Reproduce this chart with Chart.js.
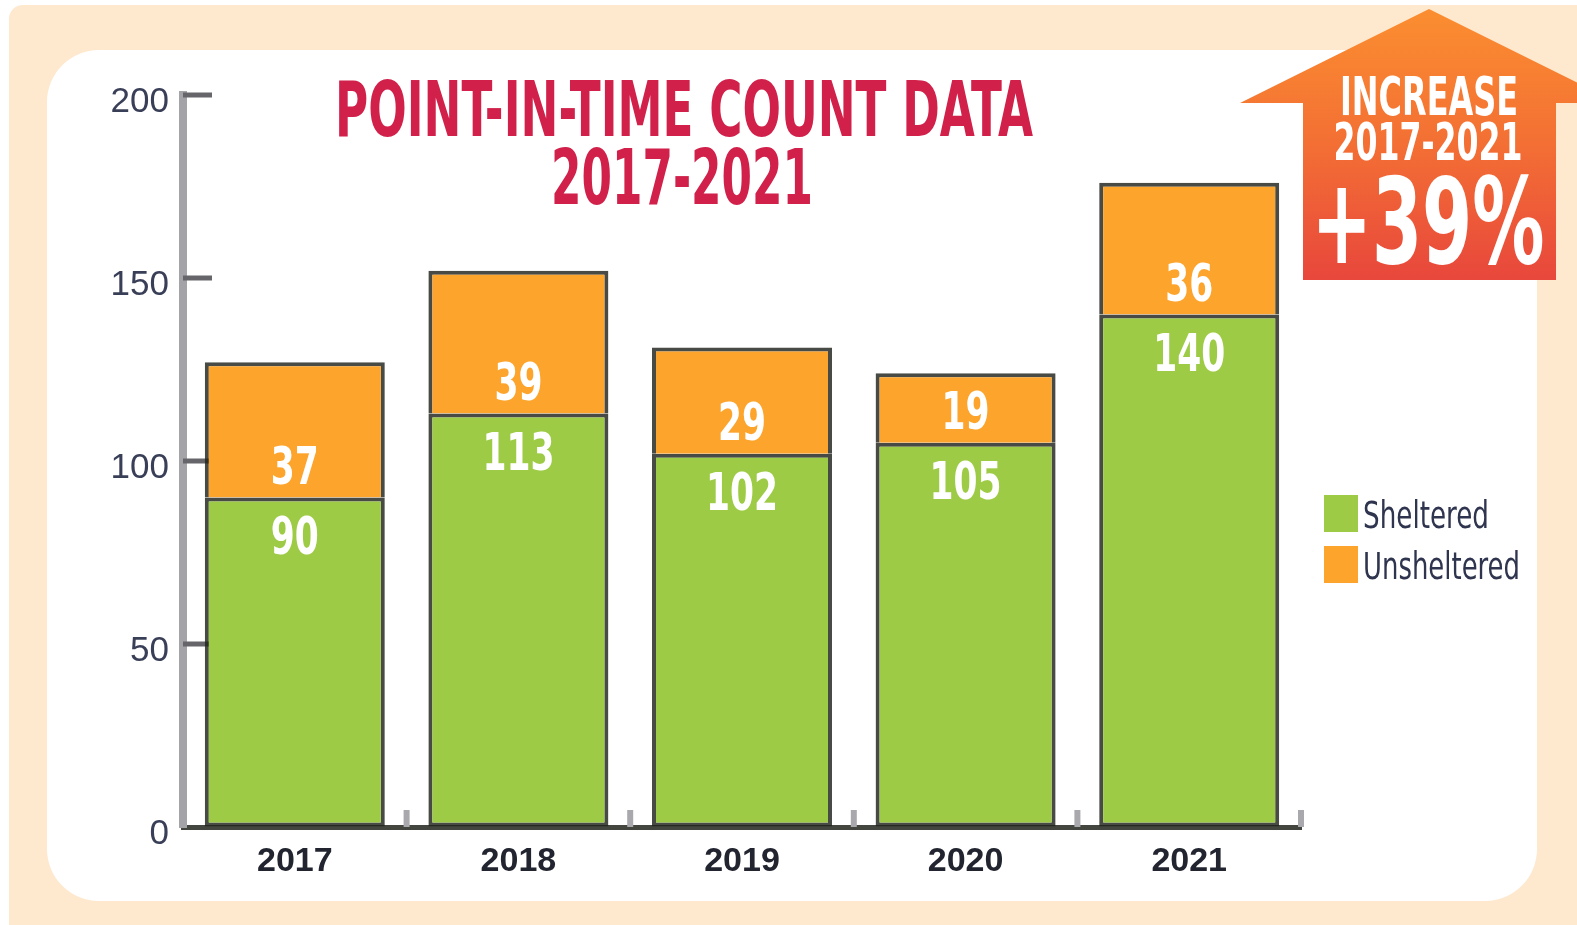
<!DOCTYPE html>
<html>
<head>
<meta charset="utf-8">
<script src="https://cdn.jsdelivr.net/npm/chart.js@4.4.0/dist/chart.umd.min.js"></script>
<style>
  html, body { margin: 0; padding: 0; background: #fff; }
  canvas { display: block; }
</style>
</head>
<body>
<canvas id="myChart" width="1577" height="925"></canvas>
<script>
const years = ['2017', '2018', '2019', '2020', '2021'];
const sheltered = [90, 113, 102, 105, 140];
const unsheltered = [37, 39, 29, 19, 36];
const yTicks = [0, 50, 100, 150, 200];
const chartTitle = ['POINT-IN-TIME COUNT DATA', '2017-2021'];
const badgeText = ['INCREASE', '2017-2021', '+39%'];

const GREEN = '#9ecb45';
const ORANGE = '#fca42c';
const PEACH = '#fee8ce';
const RED = '#d1204a';
const NARROW = '"Liberation Sans Narrow", "DejaVu Sans Condensed", "Liberation Sans", sans-serif';

function roundRect(ctx, x, y, w, h, r) {
  ctx.beginPath();
  ctx.moveTo(x + r, y);
  ctx.arcTo(x + w, y, x + w, y + h, r);
  ctx.arcTo(x + w, y + h, x, y + h, r);
  ctx.arcTo(x, y + h, x, y, r);
  ctx.arcTo(x, y, x + w, y, r);
  ctx.closePath();
}

// peach frame + white panel behind everything
const backdrop = {
  id: 'backdrop',
  beforeDraw(chart) {
    const ctx = chart.ctx;
    ctx.save();
    ctx.fillStyle = '#fff';
    ctx.fillRect(0, 0, chart.width, chart.height);
    ctx.fillStyle = PEACH;
    roundRect(ctx, 9, 5, 1640, 980, 14);
    ctx.fill();
    ctx.fillStyle = '#fff';
    roundRect(ctx, 47, 50, 1490, 851, 52);
    ctx.fill();
    ctx.restore();
  }
};

// inward ticks on both axes
const axisTicks = {
  id: 'axisTicks',
  beforeDatasetsDraw(chart) {
    const ctx = chart.ctx;
    const x = chart.scales.x, y = chart.scales.y;
    ctx.save();
    ctx.fillStyle = '#66666a';
    yTicks.forEach(v => {
      if (v === 0) return;
      const py = y.getPixelForValue(v);
      ctx.fillRect(x.left, py - 2.5, 29, 5);
    });
    ctx.fillStyle = '#a9a9ad';
    for (let i = 1; i <= years.length; i++) {
      const px = x.getPixelForValue(i - 0.5);
      ctx.fillRect(px - 3, y.bottom - 17, 6, 17);
    }
    ctx.restore();
  }
};

// white numbers inside the segments
const barLabels = {
  id: 'barLabels',
  afterDatasetsDraw(chart) {
    const ctx = chart.ctx;
    ctx.save();
    ctx.fillStyle = '#fff';
    ctx.textAlign = 'center';
    ctx.textBaseline = 'middle';
    ctx.font = 'bold 52px ' + NARROW;
    chart.data.datasets.forEach((ds, di) => {
      chart.getDatasetMeta(di).data.forEach((bar, i) => {
        const txt = String(ds.data[i]);
        const ty = di === 0 ? bar.y + 43 : bar.base - 27;
        ctx.fillText(txt, bar.x, ty, txt.length * 24);
      });
    });
    ctx.restore();
  }
};

// title, legend and the increase arrow
const extras = {
  id: 'extras',
  afterDraw(chart) {
    const ctx = chart.ctx;
    ctx.save();

    ctx.fillStyle = RED;
    ctx.textAlign = 'center';
    ctx.textBaseline = 'alphabetic';
    ctx.font = 'bold 77px ' + NARROW;
    ctx.fillText(chartTitle[0], 684, 136, 698);
    ctx.fillText(chartTitle[1], 682, 204, 262);

    // legend
    ctx.textAlign = 'left';
    ctx.font = '37px ' + NARROW;
    const legendW = [126, 157];
    chart.data.datasets.forEach((ds, i) => {
      const top = 495 + i * 51;
      ctx.fillStyle = ds.backgroundColor;
      ctx.fillRect(1324, top, 34, 37);
      ctx.fillStyle = '#30354f';
      ctx.fillText(ds.label, 1363, top + 33, legendW[i]);
    });

    // arrow
    const grad = ctx.createLinearGradient(0, 9, 0, 280);
    grad.addColorStop(0, '#fb8e30');
    grad.addColorStop(0.5, '#f36f34');
    grad.addColorStop(1, '#e8473c');
    ctx.fillStyle = grad;
    ctx.beginPath();
    ctx.moveTo(1429, 9);
    ctx.lineTo(1618, 103);
    ctx.lineTo(1556, 103);
    ctx.lineTo(1556, 280);
    ctx.lineTo(1303, 280);
    ctx.lineTo(1303, 103);
    ctx.lineTo(1240, 103);
    ctx.closePath();
    ctx.fill();

    ctx.fillStyle = '#fff';
    ctx.textAlign = 'center';
    ctx.font = 'bold 53px ' + NARROW;
    ctx.fillText(badgeText[0], 1429, 115, 178);
    ctx.font = 'bold 52px ' + NARROW;
    ctx.fillText(badgeText[1], 1428, 160, 189);
    ctx.font = 'bold 120px ' + NARROW;
    ctx.fillText(badgeText[2], 1428, 263, 233);

    ctx.restore();
  }
};

const ctx = document.getElementById('myChart').getContext('2d');
const myChart = new Chart(ctx, {
  type: 'bar',
  data: {
    labels: years,
    datasets: [{
      label: 'Sheltered',
      data: sheltered,
      backgroundColor: GREEN,
      borderColor: 'rgba(32,35,28,0.82)',
      borderWidth: 4,
      borderSkipped: false
    }, {
      label: 'Unsheltered',
      data: unsheltered,
      backgroundColor: ORANGE,
      borderColor: 'rgba(32,35,28,0.82)',
      borderWidth: 4,
      borderSkipped: 'bottom'
    }]
  },
  options: {
    responsive: false,
    animation: false,
    devicePixelRatio: 1,
    barPercentage: 0.805,
    categoryPercentage: 1,
    layout: { padding: { top: 95, right: 276, left: 0, bottom: 0 } },
    plugins: {
      legend: { display: false },
      tooltip: { enabled: false },
      title: { display: false }
    },
    scales: {
      x: {
        stacked: true,
        afterFit(scale) { scale.height = 98; },
        grid: { display: true, drawOnChartArea: false, drawTicks: false, color: 'transparent' },
        border: { display: true, color: '#42463f', width: 5 },
        ticks: {
          color: '#22252f',
          padding: 14,
          font: { family: '"Liberation Sans", Arial, sans-serif', size: 34, weight: 'bold' }
        }
      },
      y: {
        stacked: true,
        min: 0,
        max: 200,
        afterFit(scale) { scale.width = 183; },
        afterBuildTicks(scale) { scale.ticks = yTicks.map(v => ({ value: v })); },
        grid: { display: true, drawOnChartArea: false, drawTicks: false, color: 'transparent' },
        border: { display: true, color: '#a4a4a8', width: 8 },
        ticks: {
          color: '#3a3f58',
          padding: 14,
          labelOffset: 7,
          font: { family: '"Liberation Sans", Arial, sans-serif', size: 35 }
        }
      }
    }
  },
  plugins: [backdrop, axisTicks, barLabels, extras]
});
</script>
</body>
</html>
